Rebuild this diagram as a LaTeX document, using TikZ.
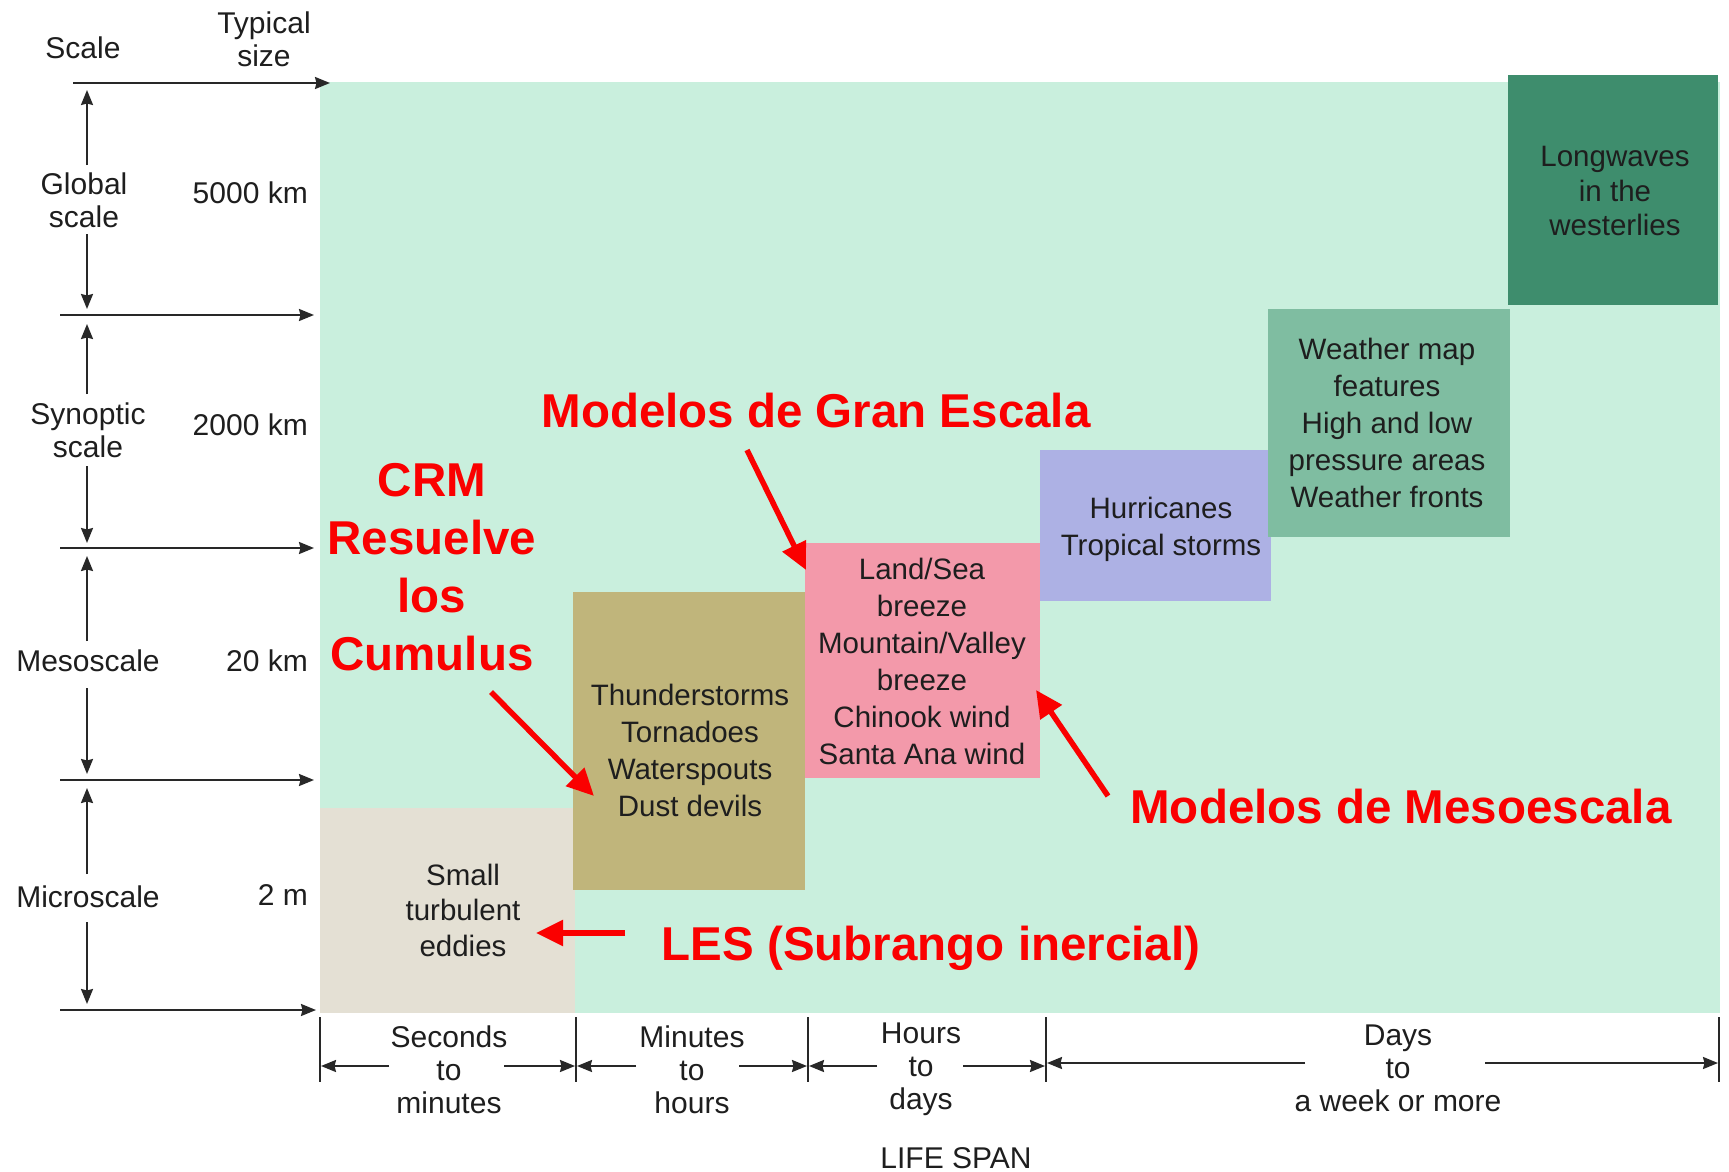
\documentclass[tikz,border=0pt]{standalone}
\usepackage{fontspec}
\setmainfont{Liberation Sans}
\usetikzlibrary{arrows.meta}
\definecolor{mint}{RGB}{201,239,221}
\definecolor{beige}{RGB}{228,224,212}
\definecolor{khaki}{RGB}{192,181,123}
\definecolor{pinkb}{RGB}{243,153,170}
\definecolor{lav}{RGB}{173,177,228}
\definecolor{medg}{RGB}{127,189,161}
\definecolor{darkg}{RGB}{62,141,109}
\definecolor{annred}{RGB}{250,0,0}
\definecolor{txt}{RGB}{30,30,30}
\definecolor{axisc}{RGB}{40,40,40}
\begin{document}
\begin{tikzpicture}[x=1pt,y=-1pt,
  lbl/.style={font=\fontsize{30}{33}\selectfont, text=txt, align=center, inner sep=0pt},
  boxtxt/.style={font=\fontsize{29.5}{37}\selectfont, text=txt, align=center, inner sep=0pt},
  redtxt/.style={font=\bfseries\fontsize{47.5}{58}\selectfont, text=annred, align=center, inner sep=0pt},
  axisline/.style={draw=axisc, line width=2pt},
  axisarrow/.style={draw=axisc, line width=2pt, -{Stealth[length=15pt,width=12pt,inset=1.5pt]}},
  redarrow/.style={draw=annred, line width=5.5pt, -{Triangle[length=27pt,width=25pt]}},
  panel/.style={draw=none, inner sep=0pt, outer sep=0pt, anchor=north west}
]
\useasboundingbox (0,0) rectangle (1729,1172);
\fill[white] (0,0) rectangle (1729,1172);

% background panel
\node[panel, fill=mint, minimum width=1400pt, minimum height=931pt] (bg) at (320,82) {};

% coloured boxes
\node[panel, fill=beige, minimum width=255pt, minimum height=205pt] (beigebox) at (320,808) {};
\node[panel, fill=khaki, minimum width=232pt, minimum height=298pt] (khakibox) at (573,592) {};
\node[panel, fill=pinkb, minimum width=235pt, minimum height=235pt] (pinkbox) at (805,543) {};
\node[panel, fill=lav, minimum width=231pt, minimum height=151pt] (lavbox) at (1040,450) {};
\node[panel, fill=medg, minimum width=242pt, minimum height=228pt] (medgbox) at (1268,309) {};
\node[panel, fill=darkg, minimum width=210pt, minimum height=230pt] (darkgbox) at (1508,75) {};

% box texts
\node[boxtxt, font=\fontsize{29.5}{35.5}\selectfont] (eddies) at (463,910) {Small\\turbulent\\eddies};
\node[boxtxt] (thunder) at (690,750) {Thunderstorms\\Tornadoes\\Waterspouts\\Dust devils};
\node[boxtxt] (land) at (922,661) {Land/Sea\\breeze\\Mountain/Valley\\breeze\\Chinook wind\\Santa Ana wind};
\node[boxtxt] (hurr) at (1161,529) {Hurricanes\\Tropical storms};
\node[boxtxt] (wmap) at (1387,423) {Weather map\\features\\High and low\\pressure areas\\Weather fronts};
\node[boxtxt, font=\fontsize{29.5}{34.5}\selectfont] (longw) at (1615,191) {Longwaves\\in the\\westerlies};

% left scale labels
\node[lbl] (scaleH) at (83,48) {Scale};
\node[lbl] (typH) at (264,39) {Typical\\size};
\node[lbl] (glob) at (84,200) {Global\\scale};
\node[lbl, anchor=east] (s5000) at (308,193) {5000 km};
\node[lbl] (syn) at (88,430) {Synoptic\\scale};
\node[lbl, anchor=east] (s2000) at (308,425) {2000 km};
\node[lbl] (meso) at (88,661) {Mesoscale};
\node[lbl, anchor=east] (s20) at (308,661) {20 km};
\node[lbl] (micro) at (88,897) {Microscale};
\node[lbl, anchor=east] (s2) at (308,895) {2 m};

% horizontal scale lines
\coordinate (h0a) at (73,83);  \coordinate (h0b) at (330,83);
\coordinate (h1a) at (60,315); \coordinate (h1b) at (314,315);
\coordinate (h2a) at (60,548); \coordinate (h2b) at (314,548);
\coordinate (h3a) at (60,780); \coordinate (h3b) at (314,780);
\coordinate (h4a) at (60,1010); \coordinate (h4b) at (316,1010);
\draw[axisarrow] (h0a) -- (h0b);
\draw[axisarrow] (h1a) -- (h1b);
\draw[axisarrow] (h2a) -- (h2b);
\draw[axisarrow] (h3a) -- (h3b);
\draw[axisarrow] (h4a) -- (h4b);

% vertical scale arrows
\coordinate (g1) at (87,165); \coordinate (g0) at (87,90);
\coordinate (g2) at (87,234); \coordinate (g3) at (87,309);
\coordinate (y1) at (87,394); \coordinate (y0) at (87,324);
\coordinate (y2) at (87,466); \coordinate (y3) at (87,543);
\coordinate (m1) at (87,641); \coordinate (m0) at (87,556);
\coordinate (m2) at (87,688); \coordinate (m3) at (87,774);
\coordinate (c1) at (87,874); \coordinate (c0) at (87,788);
\coordinate (c2) at (87,922); \coordinate (c3) at (87,1004);
\draw[axisarrow] (g1) -- (g0); \draw[axisarrow] (g2) -- (g3);
\draw[axisarrow] (y1) -- (y0); \draw[axisarrow] (y2) -- (y3);
\draw[axisarrow] (m1) -- (m0); \draw[axisarrow] (m2) -- (m3);
\draw[axisarrow] (c1) -- (c0); \draw[axisarrow] (c2) -- (c3);

% life span axis
\coordinate (t0a) at (320,1017); \coordinate (t0b) at (320,1082);
\coordinate (t1a) at (576,1017); \coordinate (t1b) at (576,1082);
\coordinate (t2a) at (808,1017); \coordinate (t2b) at (808,1082);
\coordinate (t3a) at (1046,1017); \coordinate (t3b) at (1046,1082);
\coordinate (t4a) at (1719,1017); \coordinate (t4b) at (1719,1082);
\draw[axisline] (t0a) -- (t0b);
\draw[axisline] (t1a) -- (t1b);
\draw[axisline] (t2a) -- (t2b);
\draw[axisline] (t3a) -- (t3b);
\draw[axisline] (t4a) -- (t4b);

\node[lbl] (secs) at (449,1070) {Seconds\\to\\minutes};
\node[lbl] (mins) at (692,1070) {Minutes\\to\\hours};
\node[lbl] (hrs) at (921,1069) {Hours\\to\\days};
\node[lbl] (days) at (1398,1068) {Days\\to\\a week or more};
\node[lbl] (life) at (956,1158) {LIFE SPAN};

\coordinate (a1s) at (389,1066); \coordinate (a1e) at (321,1066);
\coordinate (a2s) at (504,1066); \coordinate (a2e) at (575,1066);
\coordinate (a3s) at (636,1066); \coordinate (a3e) at (577,1066);
\coordinate (a4s) at (739,1066); \coordinate (a4e) at (807,1066);
\coordinate (a5s) at (877,1066); \coordinate (a5e) at (809,1066);
\coordinate (a6s) at (963,1066); \coordinate (a6e) at (1045,1066);
\coordinate (a7s) at (1305,1063); \coordinate (a7e) at (1047,1063);
\coordinate (a8s) at (1485,1063); \coordinate (a8e) at (1718,1063);
\draw[axisarrow] (a1s) -- (a1e); \draw[axisarrow] (a2s) -- (a2e);
\draw[axisarrow] (a3s) -- (a3e); \draw[axisarrow] (a4s) -- (a4e);
\draw[axisarrow] (a5s) -- (a5e); \draw[axisarrow] (a6s) -- (a6e);
\draw[axisarrow] (a7s) -- (a7e); \draw[axisarrow] (a8s) -- (a8e);

% red annotations
\node[redtxt] (gran) at (816,411) {Modelos de Gran Escala};
\node[redtxt] (crm) at (432,567) {CRM\\Resuelve\\los\\Cumulus};
\node[redtxt] (mesoM) at (1401,807) {Modelos de Mesoescala};
\node[redtxt] (les) at (931,948) {LES (Subrango inercial)};

\coordinate (rg0) at (747,450); \coordinate (rg1) at (806,570);
\coordinate (rc0) at (491,692); \coordinate (rc1) at (594,796);
\coordinate (rm0) at (1108,796); \coordinate (rm1) at (1036,690);
\coordinate (rl0) at (625,933); \coordinate (rl1) at (536,933);
\draw[redarrow] (rg0) -- (rg1);
\draw[redarrow] (rc0) -- (rc1);
\draw[redarrow] (rm0) -- (rm1);
\draw[redarrow] (rl0) -- (rl1);
\end{tikzpicture}
\end{document}
